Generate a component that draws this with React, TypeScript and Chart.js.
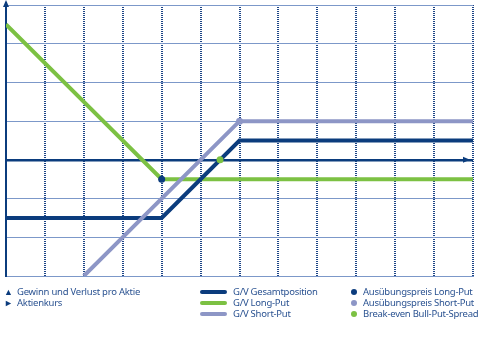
import React, { useEffect, useRef } from "react";
import { Chart, registerables } from "chart.js";

Chart.register(...registerables);

// Data
const xMin = 0;
const xMax = 12;
const yMin = -3;
const yMax = 4;

const gesamtX = [0, 4, 6, 12];
const gesamtY = [-1.5, -1.5, 0.5, 0.5];

const longPutX = [0, 4, 12];
const longPutY = [3.5, -0.5, -0.5];

const shortPutX = [2, 6, 12];
const shortPutY = [-3, 1, 1];

const strikeLong = { x: 4, y: -0.5 };
const strikeShort = { x: 6, y: 1 };
const breakEven = { x: 5.5, y: 0 };

const axisLegend = ["Gewinn und Verlust pro Aktie", "Aktienkurs"];
const lineLegend = ["G/V Gesamtposition", "G/V Long-Put", "G/V Short-Put"];
const dotLegend = ["Ausübungspreis Long-Put", "Ausübungspreis Short-Put", "Break-even Bull-Put-Spread"];

const DARK = "#0b3c7d";
const GREEN = "#7cc143";
const PURPLE = "#8d96c6";
const HGRID = "#7c98c9";
const VGRID = "#1d4586";
const TEXT = "#2a5291";

const zip = (xs: number[], ys: number[]) => xs.map((x, i) => ({ x, y: ys[i] }));

const arrowPlugin = {
  id: "arrows",
  afterDraw(chart: any) {
    const { ctx, scales } = chart;
    const xs = scales.x;
    const ys = scales.y;
    const x0 = xs.getPixelForValue(xMin);
    const yTop = ys.getPixelForValue(yMax);
    const y0 = ys.getPixelForValue(0);
    const xRight = xs.getPixelForValue(xMax);
    ctx.save();
    ctx.fillStyle = DARK;
    ctx.strokeStyle = DARK;
    ctx.lineWidth = 2;
    ctx.beginPath();
    ctx.moveTo(x0, yTop);
    ctx.lineTo(x0, yTop - 3);
    ctx.stroke();
    ctx.beginPath();
    ctx.moveTo(x0, yTop - 5);
    ctx.lineTo(x0 - 3, yTop + 2);
    ctx.lineTo(x0 + 3, yTop + 2);
    ctx.closePath();
    ctx.fill();
    ctx.beginPath();
    ctx.moveTo(xRight - 3, y0);
    ctx.lineTo(xRight - 10, y0 - 3);
    ctx.lineTo(xRight - 10, y0 + 3);
    ctx.closePath();
    ctx.fill();
    ctx.restore();
  },
};

export default function App() {
  const ref = useRef<HTMLCanvasElement>(null);

  useEffect(() => {
    if (!ref.current) return;
    const chart = new Chart(ref.current, {
      type: "line",
      data: {
        datasets: [
          {
            label: "Ausübungspreis Long-Put",
            data: [strikeLong],
            showLine: false,
            pointRadius: 3.5,
            pointBackgroundColor: DARK,
            pointBorderWidth: 0,
            order: 0,
          },
          {
            label: "Ausübungspreis Short-Put",
            data: [strikeShort],
            showLine: false,
            pointRadius: 3.5,
            pointBackgroundColor: PURPLE,
            pointBorderWidth: 0,
            order: 0,
          },
          {
            label: "Break-even Bull-Put-Spread",
            data: [breakEven],
            showLine: false,
            pointRadius: 3.5,
            pointBackgroundColor: GREEN,
            pointBorderWidth: 0,
            order: 0,
          },
          {
            label: "G/V Short-Put",
            data: zip(shortPutX, shortPutY),
            borderColor: PURPLE,
            borderWidth: 4,
            pointRadius: 0,
            tension: 0,
            order: 1,
          },
          {
            label: "G/V Gesamtposition",
            data: zip(gesamtX, gesamtY),
            borderColor: DARK,
            borderWidth: 4,
            pointRadius: 0,
            tension: 0,
            order: 2,
          },
          {
            label: "G/V Long-Put",
            data: zip(longPutX, longPutY),
            borderColor: GREEN,
            borderWidth: 4,
            pointRadius: 0,
            tension: 0,
            order: 3,
          },
        ],
      },
      options: {
        animation: false,
        responsive: false,
        layout: { padding: { left: 6, top: 5, right: 9, bottom: 75 } },
        plugins: { legend: { display: false }, tooltip: { enabled: false } },
        scales: {
          x: {
            type: "linear",
            min: xMin,
            max: xMax,
            z: 1,
            ticks: { display: false, stepSize: 1 },
            grid: { color: VGRID, lineWidth: 2, drawTicks: false },
            border: { display: true, color: HGRID, width: 1, dash: [1, 1] },
          },
          y: {
            type: "linear",
            min: yMin,
            max: yMax,
            ticks: { display: false, stepSize: 1 },
            grid: {
              drawTicks: false,
              color: (c: any) => (c.tick && c.tick.value === 0 ? DARK : HGRID),
              lineWidth: (c: any) => (c.tick && c.tick.value === 0 ? 2.5 : 1),
            },
            border: { display: true, color: DARK, width: 2 },
          },
        },
      },
      plugins: [arrowPlugin],
    });
    return () => chart.destroy();
  }, []);

  const txt: React.CSSProperties = {
    position: "absolute",
    fontFamily: "'Noto Sans', sans-serif",
    fontSize: 9.5,
    color: TEXT,
    whiteSpace: "nowrap",
    lineHeight: "11px",
    letterSpacing: -0.25,
  };

  const rowsY = [286, 297, 308];
  const lineColors = [DARK, GREEN, PURPLE];
  const dotColors = [DARK, PURPLE, GREEN];

  return (
    <div style={{ position: "fixed", left: 0, top: 0, width: 482, height: 351, background: "#fff", overflow: "hidden" }}>
      <canvas ref={ref} width={482} height={351} style={{ position: "absolute", left: 0, top: 0 }} />
      {axisLegend.map((t, i) => (
        <React.Fragment key={t}>
          <span style={{ ...txt, left: 4, top: rowsY[i], fontSize: 9, color: DARK }}>{i === 0 ? "▲" : "►"}</span>
          <span style={{ ...txt, left: 17, top: rowsY[i] }}>{t}</span>
        </React.Fragment>
      ))}
      {lineLegend.map((t, i) => (
        <React.Fragment key={t}>
          <div style={{ position: "absolute", left: 200, top: rowsY[i] + 4, width: 27, height: 4, borderRadius: 2, background: lineColors[i] }} />
          <span style={{ ...txt, left: 233, top: rowsY[i] }}>{t}</span>
        </React.Fragment>
      ))}
      {dotLegend.map((t, i) => (
        <React.Fragment key={t}>
          <div style={{ position: "absolute", left: 351, top: rowsY[i] + 3, width: 6, height: 6, borderRadius: 3, background: dotColors[i] }} />
          <span style={{ ...txt, left: 363, top: rowsY[i] }}>{t}</span>
        </React.Fragment>
      ))}
    </div>
  );
}
